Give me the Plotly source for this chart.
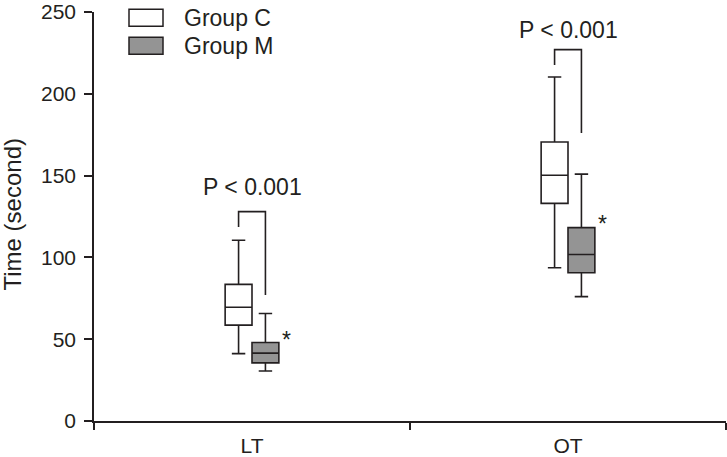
import plotly.graph_objects as go

# ---- data ----
categories = ["LT", "OT"]
groups = ["Group C", "Group M"]

c_lower = [41.2, 93.7]
c_q1 = [58.6, 133.0]
c_median = [69.5, 150.2]
c_q3 = [83.5, 170.5]
c_upper = [110.5, 210.3]

m_lower = [30.6, 76.0]
m_q1 = [35.5, 90.6]
m_median = [41.5, 101.8]
m_q3 = [48.0, 118.2]
m_upper = [65.7, 150.9]

p_labels = ["P < 0.001", "P < 0.001"]
p_label_y = [143, 239]
bracket_top = [128, 227]
bracket_left_end = [118.6, 217.6]
bracket_right_end = [77, 176]
asterisk_y = [49.5, 120.5]

y_ticks = [0, 50, 100, 150, 200, 250]
y_title = "Time (second)"

# ---- styling ----
W, H = 727, 457
ML, MR, MT, MB = 94, 1, 12, 36
LINE = "#231f20"
GRAY = "#949494"
FONT = "Liberation Sans, Arial, sans-serif"
BOXGAP = 0.83
OFF = 0.25 * (1 - BOXGAP)

pw = W - ML - MR
ph = H - MT - MB


def px_x(px):
    return (px - ML) / pw


def px_y(py):
    return (H - MB - py) / ph


fig = go.Figure()
fig.add_trace(go.Box(
    x=categories, q1=c_q1, median=c_median, q3=c_q3,
    lowerfence=c_lower, upperfence=c_upper, name=groups[0],
    fillcolor="white", line=dict(color=LINE, width=1.6),
    whiskerwidth=0.5, boxpoints=False, showlegend=False))
fig.add_trace(go.Box(
    x=categories, q1=m_q1, median=m_median, q3=m_q3,
    lowerfence=m_lower, upperfence=m_upper, name=groups[1],
    fillcolor=GRAY, line=dict(color=LINE, width=1.6),
    whiskerwidth=0.5, boxpoints=False, showlegend=False))

shapes = []
annotations = []
for i, cat in enumerate(categories):
    xl, xr = i - OFF, i + OFF
    shapes.append(dict(
        type="path", xref="x", yref="y",
        path=f"M {xl},{bracket_left_end[i]} L {xl},{bracket_top[i]} "
             f"L {xr},{bracket_top[i]} L {xr},{bracket_right_end[i]}",
        line=dict(color=LINE, width=1.6)))
    annotations.append(dict(
        x=i, y=p_label_y[i], xref="x", yref="y", text=p_labels[i],
        showarrow=False, font=dict(family=FONT, size=23, color=LINE),
        xanchor="center", yanchor="middle"))
    annotations.append(dict(
        x=i + 0.11, y=asterisk_y[i], xref="x", yref="y", text="*",
        showarrow=False, font=dict(family=FONT, size=23, color=LINE),
        xanchor="center", yanchor="middle"))

# legend drawn manually (wide rectangles)
legend_fills = ["white", GRAY]
legend_centers = [17.8, 45.8]
for fill, cy, name in zip(legend_fills, legend_centers, groups):
    shapes.append(dict(
        type="rect", xref="paper", yref="paper",
        x0=px_x(129), x1=px_x(163), y0=px_y(cy + 8.5), y1=px_y(cy - 8.5),
        fillcolor=fill, line=dict(color=LINE, width=1.5)))
    annotations.append(dict(
        x=px_x(182), y=px_y(cy), xref="paper", yref="paper", text=name,
        showarrow=False, font=dict(family=FONT, size=23, color=LINE),
        xanchor="left", yanchor="middle"))

# y-axis title
annotations.append(dict(
    x=px_x(12), y=px_y(214.5), xref="paper", yref="paper", text=y_title,
    textangle=-90, showarrow=False, font=dict(family=FONT, size=24, color=LINE),
    xanchor="center", yanchor="middle"))

fig.update_layout(
    template="none",
    width=W, height=H,
    margin=dict(l=ML, r=MR, t=MT, b=MB, pad=0, autoexpand=False),
    plot_bgcolor="white", paper_bgcolor="white",
    boxmode="group", boxgap=BOXGAP, boxgroupgap=0,
    shapes=shapes, annotations=annotations,
    showlegend=False,
    font=dict(family=FONT, size=21, color=LINE),
)
fig.update_xaxes(
    type="category", categoryorder="array", categoryarray=categories,
    range=[-0.5, 1.5], tickson="boundaries", ticks="outside", ticklen=7,
    tickwidth=1.5, tickcolor=LINE, showline=True, linecolor=LINE, linewidth=1.5,
    showgrid=False, zeroline=False, automargin=False, ticklabelstandoff=5,
    ticklabeloverflow="allow",
    tickfont=dict(family=FONT, size=21, color=LINE))
fig.update_yaxes(
    range=[0, 250], tickvals=y_ticks, ticktext=[str(v) for v in y_ticks],
    tickmode="array", ticks="outside", ticklen=8,
    tickwidth=1.5, tickcolor=LINE, showline=True, linecolor=LINE, linewidth=1.5,
    showgrid=False, zeroline=False, automargin=False, ticklabelstandoff=4,
    ticklabeloverflow="allow",
    tickfont=dict(family=FONT, size=21, color=LINE))

fig.write_html(
    "out.html",
    config={"displayModeBar": False},
    post_script="document.body.style.margin='0';document.body.style.overflow='hidden';",
)
